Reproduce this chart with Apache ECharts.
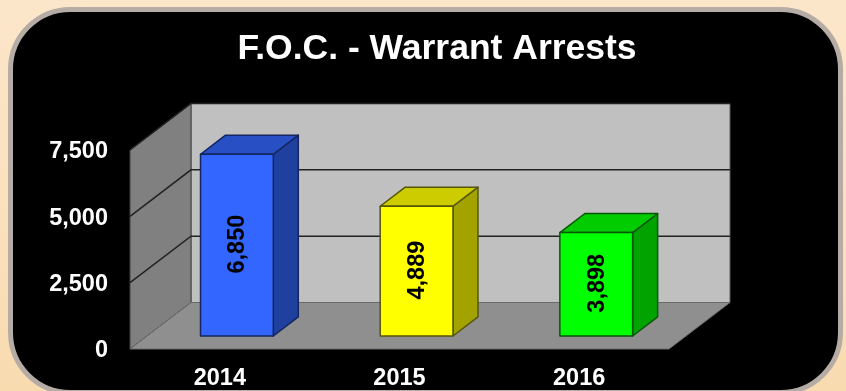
<!DOCTYPE html>
<html>
<head>
<meta charset="utf-8">
<style>html,body{margin:0;padding:0;background:#000}#c{width:846px;height:391px}</style>
<script src="https://cdn.jsdelivr.net/npm/echarts@6/dist/echarts.min.js"></script>
</head>
<body>
<div id="c"></div>
<script>
const titleText = 'F.O.C. - Warrant Arrests';
const categories = ['2014', '2015', '2016'];
const values = [6850, 4889, 3898];
const yTicks = [0, 2500, 5000, 7500];
const frontColors = ['#3366FF', '#FFFF00', '#00FF00'];
const topColors = ['#2850C4', '#CCCC00', '#00CC00'];
const sideColors = ['#2040A0', '#A3A300', '#00A300'];
const edgeColors = ['#142560', '#55550A', '#0A550A'];

const FONT = '"Liberation Sans", Arial, sans-serif';
const DX = 61, DY = -46.5;           // projected depth of the chart floor
const BAR_START = 0.28, BAR_DEPTH = 0.41, BAR_WIDTH = 0.405; // fractions of depth / band

const chart = echarts.init(document.getElementById('c'), null, {renderer: 'canvas'});

function wallsItem(params) {
  const g = params.coordSys;
  const L = g.x, R = g.x + g.width, T = g.y, B = g.y + g.height;
  const poly = (pts, fill, stroke, lw) => ({
    type: 'polygon', shape: {points: pts},
    style: {fill: fill, stroke: stroke, lineWidth: lw}
  });
  return {type: 'group', children: [
    poly([[L + DX, T + DY], [R + DX, T + DY], [R + DX, B + DY], [L + DX, B + DY]], '#C0C0C0', '#5a5a5a', 1),
    poly([[L, T], [L + DX, T + DY], [L + DX, B + DY], [L, B]], '#808080', '#404040', 1),
    poly([[L, B], [L + DX, B + DY], [R + DX, B + DY], [R, B]], '#8F8F8F', '#6a6a6a', 1)
  ]};
}

function gridItem(params, api) {
  const g = params.coordSys;
  const y = api.coord([0, api.value(1)])[1];
  if (api.value(1) === 0) return null;
  const L = g.x, R = g.x + g.width;
  const style = {stroke: '#222', lineWidth: 1.5, fill: null};
  const children = [{type: 'polyline', shape: {points: [[L, y], [L + DX, y + DY], [R + DX, y + DY]]}, style: style}];
  return {type: 'group', children: children};
}

function barItem(params, api) {
  const i = api.value(0), v = api.value(1);
  const c = api.coord([i, v]), z = api.coord([i, 0]);
  const w = api.size([1, 0])[0] * BAR_WIDTH;
  const ox = DX * BAR_START, oy = DY * BAR_START;
  const ddx = DX * BAR_DEPTH, ddy = DY * BAR_DEPTH;
  const x0 = c[0] - w / 2 + ox, x1 = x0 + w;
  const yT = c[1] + oy, yB = z[1] + oy;
  const st = (f) => ({fill: f, stroke: edgeColors[i], lineWidth: 1.5, lineJoin: 'round'});
  return {type: 'group', children: [
    {type: 'polygon', shape: {points: [[x1, yT], [x1 + ddx, yT + ddy], [x1 + ddx, yB + ddy], [x1, yB]]}, style: st(sideColors[i])},
    {type: 'polygon', shape: {points: [[x0, yT], [x0 + ddx, yT + ddy], [x1 + ddx, yT + ddy], [x1, yT]]}, style: st(topColors[i])},
    {type: 'polygon', shape: {points: [[x0, yT], [x1, yT], [x1, yB], [x0, yB]]}, style: st(frontColors[i])},
    {type: 'text', x: (x0 + x1) / 2 + 1, y: (yT + yB) / 2 - 1, rotation: Math.PI / 2,
      style: {text: v.toLocaleString('en-US'), fill: '#000', font: 'bold 23.5px ' + FONT, align: 'center', verticalAlign: 'middle'}}
  ]};
}

chart.setOption({
  animation: false,
  backgroundColor: {type: 'linear', x: 0, y: 0, x2: 0, y2: 1, colorStops: [
    {offset: 0, color: '#FCE6CA'}, {offset: 1, color: '#F9DBB0'}]},
  title: {
    text: titleText, left: 432, top: 26, textAlign: 'center',
    textStyle: {color: '#fff', fontFamily: FONT, fontWeight: 'bold', fontSize: 35.5}
  },
  graphic: [{
    type: 'rect', z: -1, silent: true,
    shape: {x: 10.5, y: 9.5, width: 830, height: 383, r: 60},
    style: {fill: '#000', stroke: '#B5ADA5', lineWidth: 5}
  }],
  grid: {left: 130, right: 177, top: 150, bottom: 41, containLabel: false},
  xAxis: {
    type: 'category', data: categories,
    axisLine: {show: false},
    axisTick: {show: true, inside: true, length: 2, lineStyle: {color: '#000'}},
    axisLabel: {color: '#fff', fontFamily: FONT, fontWeight: 'bold', fontSize: 23.5, margin: 18}
  },
  yAxis: {
    type: 'value', min: 0, max: 7500, interval: 2500,
    splitLine: {show: false}, axisLine: {show: false}, axisTick: {show: false},
    axisLabel: {color: '#fff', fontFamily: FONT, fontWeight: 'bold', fontSize: 23.5, margin: 22,
      verticalAlign: 'top', lineHeight: 4,
      formatter: (v) => v.toLocaleString('en-US')}
  },
  series: [
    {type: 'custom', renderItem: wallsItem, data: [[0, 0]], silent: true, z: 1},
    {type: 'custom', renderItem: gridItem, data: yTicks.map((t) => [0, t]), silent: true, z: 2},
    {type: 'custom', renderItem: barItem, data: values.map((v, i) => [i, v]), z: 3}
  ]
});
</script>
</body>
</html>
